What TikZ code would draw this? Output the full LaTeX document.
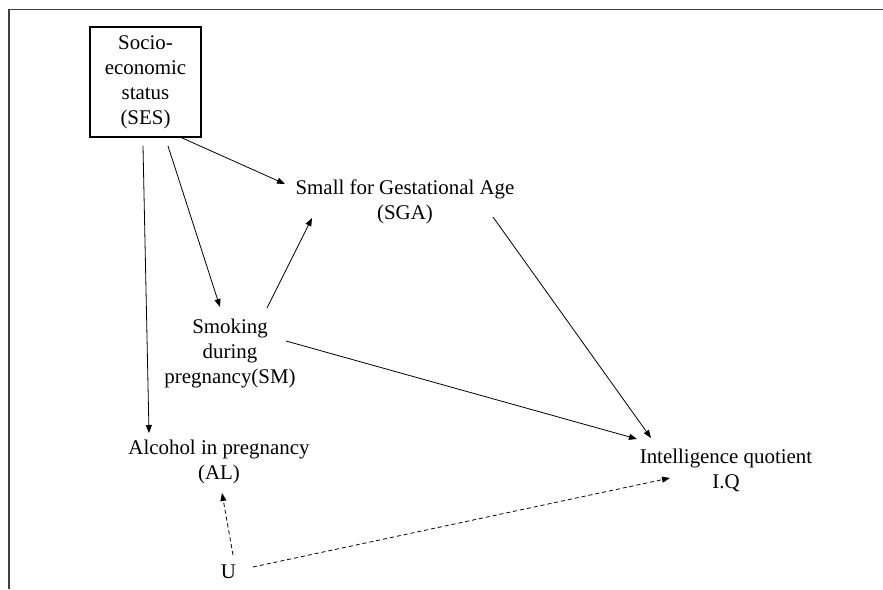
\documentclass[tikz,border=0pt]{standalone}
\usepackage{fontspec}
\setmainfont{Liberation Serif}
\usetikzlibrary{arrows.meta}
\begin{document}
\begin{tikzpicture}[x=1pt,y=-1pt,
  lbl/.style={align=center,inner sep=0pt,font=\fontsize{20.9}{25}\selectfont},
  sesbox/.style={draw,line width=2.5pt,minimum width=111pt,minimum height=110pt,inner sep=0pt,align=center,font=\fontsize{20.9}{25}\selectfont},
  arr/.style={line width=0.8pt,-{Triangle[length=8pt,width=6pt]}},
  darr/.style={arr,dash pattern=on 4pt off 3pt},
  frame/.style={line width=1.5pt,black!75}]
\useasboundingbox (0,0) rectangle (883,589);
\fill[white] (0,0) rectangle (883,589);
% frame
\coordinate (ftl) at (9,9.5);
\coordinate (ftr) at (883,9.5);
\coordinate (fbl) at (9,589);
\draw[frame] (fbl) -- (ftl) -- (ftr);
% nodes
\node[sesbox] (ses) at (145.5,82) {Socio-\\economic\\status\\(SES)};
\node[lbl] (sga) at (405,202.2) {Small for Gestational Age\\(SGA)};
\node[lbl] (sm) at (230,353.1) {Smoking\\during\\pregnancy(SM)};
\node[lbl] (al) at (219,462.2) {Alcohol in pregnancy\\(AL)};
\node[lbl] (iq) at (726,470.2) {Intelligence quotient\\I.Q};
\node[lbl] (u) at (228.5,571.3) {U};
% connectors
\draw[arr] ([shift={(34.5,55)}]ses.center) -- ([shift={(-120,-18.2)}]sga.center);
\draw[arr] ([shift={(-2.5,64)}]ses.center) -- ([shift={(-70,-29.2)}]al.center);
\draw[arr] ([shift={(22.5,64)}]ses.center) -- ([shift={(-10,-46.1)}]sm.center);
\draw[arr] ([shift={(37,-45.1)}]sm.center) -- ([shift={(-93,15.8)}]sga.center);
\draw[arr] ([shift={(56,-12.1)}]sm.center) -- ([shift={(-89,-31.2)}]iq.center);
\draw[arr] ([shift={(88,14.8)}]sga.center) -- ([shift={(-75,-32.2)}]iq.center);
\draw[darr] ([shift={(4.5,-16.3)}]u.center) -- ([shift={(3,30.8)}]al.center);
\draw[darr] ([shift={(24.5,-4.3)}]u.center) -- ([shift={(-56,7.8)}]iq.center);
\end{tikzpicture}
\end{document}
